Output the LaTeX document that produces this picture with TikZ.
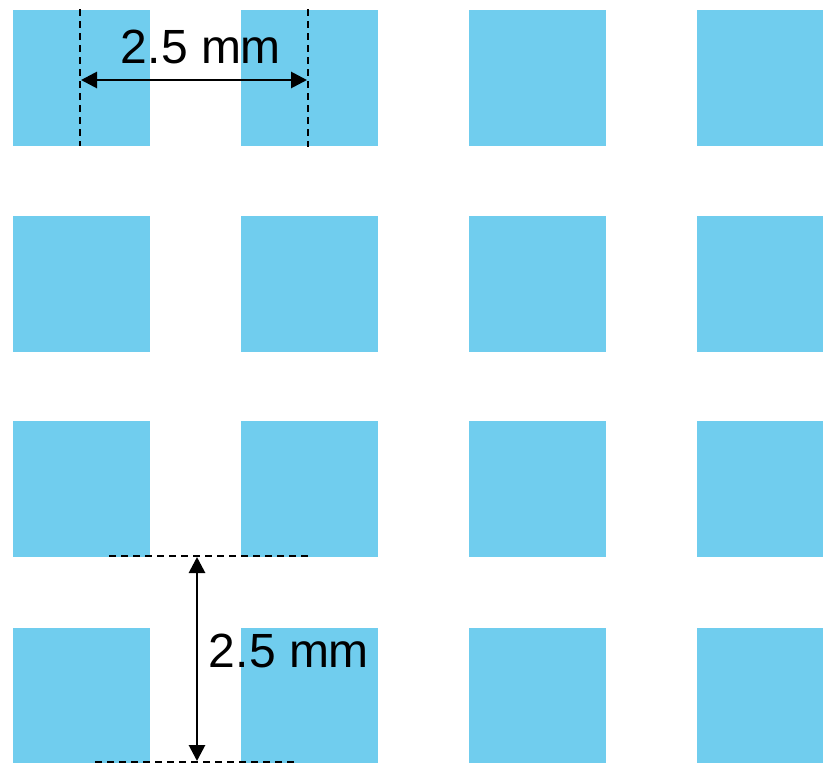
\documentclass[tikz,border=0pt]{standalone}
\usepackage{fontspec}
\setmainfont{Liberation Sans}
\usetikzlibrary{arrows.meta}
\definecolor{padblue}{RGB}{112,205,238}
\begin{document}
\begin{tikzpicture}[x=1pt,y=-1pt,
  pad/.style={fill=padblue,draw=none,inner sep=0pt,outer sep=0pt,anchor=north west,minimum width=137pt,minimum height=136pt},
  guide/.style={draw=black,line width=2.2pt,dash pattern=on 7pt off 5pt},
  dim/.style={draw=black,line width=2.8pt,{Triangle[length=16pt,width=16pt]}-{Triangle[length=16pt,width=16pt]}},
  lbl/.style={font=\fontsize{48}{54}\selectfont,inner sep=0pt}]
\useasboundingbox (0,0) rectangle (823,763);
\fill[white] (0,0) rectangle (823,763);
% pads
\foreach \r/\y in {1/10,2/216,3/421,4/628}{
  \foreach \c/\x in {1/13,2/241,3/469}{
    \node[pad] (p\r\c) at (\x,\y) {};
  }
  \node[pad,minimum width=126pt] (p\r4) at (697,\y) {};
}
% horizontal dimension
\coordinate (vt1) at (80,9);
\coordinate (vb1) at (80,146);
\coordinate (vt2) at (308,9);
\coordinate (vb2) at (308,147);
\draw[guide] (vt1) -- (vb1);
\draw[guide] (vt2) -- (vb2);
\coordinate (ha) at (81,80);
\coordinate (hb) at (307,80);
\draw[dim] (ha) -- (hb);
\node[lbl] (t1) at (201,47) {2.5 mm};
% vertical dimension
\coordinate (hl1) at (109,556);
\coordinate (hr1) at (310,556);
\coordinate (hl2) at (95,762);
\coordinate (hr2) at (296,762);
\draw[guide] (hl1) -- (hr1);
\draw[guide] (hl2) -- (hr2);
\coordinate (va) at (197,557);
\coordinate (vb) at (197,761);
\draw[dim] (va) -- (vb);
\node[lbl] (t2) at (289,651) {2.5 mm};
\end{tikzpicture}
\end{document}
